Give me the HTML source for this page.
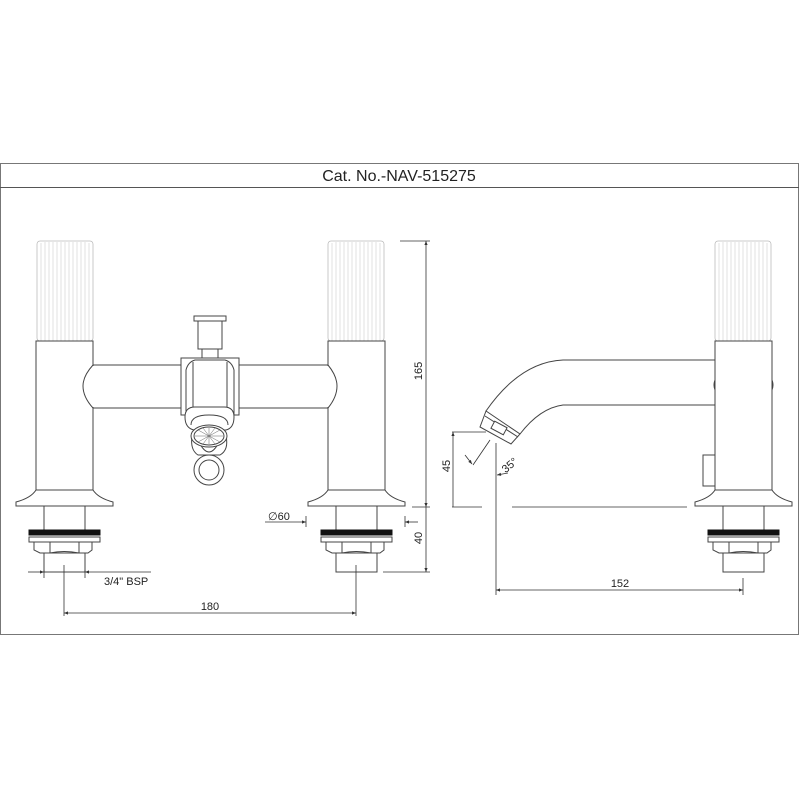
<!DOCTYPE html>
<html><head><meta charset="utf-8"><style>
html,body{margin:0;padding:0;background:#fff;}
svg{display:block;}
text{font-family:"Liberation Sans",sans-serif;fill:#222;}
</style></head><body>
<svg width="800" height="800" viewBox="0 0 800 800" xmlns="http://www.w3.org/2000/svg">
<defs>
<marker id="ar" viewBox="0 0 10 10" refX="10" refY="5" markerWidth="7" markerHeight="5" orient="auto-start-reverse"><path d="M0,1 L10,5 L0,9 z" fill="#333"/></marker>
<g id="cap">
 <rect x="0" y="0" width="56" height="100" fill="#fff" stroke="#bbb" stroke-width="0.8" rx="3"/>
 <g stroke="#ccc" stroke-width="0.6">
  <line x1="4" y1="2" x2="4" y2="100"/><line x1="8" y1="1" x2="8" y2="100"/><line x1="12" y1="1" x2="12" y2="100"/><line x1="16" y1="1" x2="16" y2="100"/><line x1="20" y1="1" x2="20" y2="100"/><line x1="24" y1="1" x2="24" y2="100"/><line x1="28" y1="1" x2="28" y2="100"/><line x1="32" y1="1" x2="32" y2="100"/><line x1="36" y1="1" x2="36" y2="100"/><line x1="40" y1="1" x2="40" y2="100"/><line x1="44" y1="1" x2="44" y2="100"/><line x1="48" y1="1" x2="48" y2="100"/><line x1="52" y1="2" x2="52" y2="100"/>
 </g>
</g>
<g id="base" fill="#fff" stroke="#444" stroke-width="1">
 <path d="M0,0 L57,0 Q62,8 77,12 L77,16 L-20,16 L-20,12 Q-5,8 0,0 Z"/>
 <rect x="8" y="16" width="41" height="24"/>
 <rect x="-7" y="40" width="71" height="5" fill="#111" stroke="#111"/>
 <rect x="-7" y="47" width="71" height="5"/>
 <path d="M-2,52 L56,52 L56,60 L52,63 L4,63 L-2,60 Z"/>
 <line x1="14" y1="52" x2="14" y2="63"/><line x1="43" y1="52" x2="43" y2="63"/>
 <path d="M14,63 Q28,60 43,63" fill="none"/>
 <rect x="8" y="63" width="41" height="19"/>
</g>
</defs>

<!-- frame -->
<rect x="0.5" y="163.5" width="798" height="471" fill="none" stroke="#777" stroke-width="1"/>
<line x1="0" y1="187.5" x2="799" y2="187.5" stroke="#555" stroke-width="1"/>
<text x="399" y="181" font-size="16" text-anchor="middle">Cat. No.-NAV-515275</text>

<!-- left tap -->
<use href="#cap" x="37" y="241"/>
<rect x="36" y="341" width="57" height="149" fill="#fff" stroke="#444"/>
<use href="#base" x="36" y="490"/>
<!-- right tap -->
<use href="#cap" x="328" y="241"/>
<rect x="328" y="341" width="57" height="149" fill="#fff" stroke="#444"/>
<use href="#base" x="328" y="490"/>

<!-- bar -->
<line x1="93" y1="366" x2="93" y2="407" stroke="#fff" stroke-width="3"/>
<line x1="328" y1="366" x2="328" y2="407" stroke="#fff" stroke-width="3"/>
<g fill="#fff" stroke="#444" stroke-width="1">
 <path d="M93,365 L181,365 M93,408 L181,408 M239,365 L328,365 M239,408 L328,408"/>
 <path d="M93,365 Q83,376 83,386 Q83,397 93,408" fill="none"/>
 <path d="M328,365 Q337,376 337,386 Q337,397 328,408" fill="none"/>
 <!-- top stem -->
 <rect x="194" y="316" width="32" height="5"/>
 <rect x="198" y="321" width="24" height="28"/>
 <rect x="202" y="349" width="16" height="9"/>
 <!-- block -->
 <rect x="181" y="358" width="58" height="57"/>
 <path d="M186,415 L186,370 Q188,362 195,360 L225,360 Q232,362 234,370 L234,415"/>
 <line x1="193" y1="362" x2="193" y2="412"/><line x1="227" y1="362" x2="227" y2="412"/>
 <path d="M185,417 Q185,407 195,407 L224,407 Q234,407 234,417 Q234,428 226,430 L194,430 Q185,428 185,417 Z"/>
 <path d="M191,425 Q191,415 209,415 Q228,415 228,425"/>
 <path d="M192,436 Q190,450 198,455 L220,455 Q229,450 226,436" fill="none"/>
 <path d="M200,444 Q209,460 218,444" fill="none"/>
 <ellipse cx="209" cy="436" rx="18" ry="11"/>
 <ellipse cx="209" cy="436" rx="15" ry="9"/>
 <circle cx="209" cy="470" r="15"/>
 <circle cx="209" cy="470" r="10"/>
</g>
<g stroke="#666" stroke-width="0.5">
 <line x1="195" y1="436" x2="223" y2="436"/><line x1="209" y1="428" x2="209" y2="444"/>
 <line x1="198" y1="430" x2="220" y2="442"/><line x1="198" y1="442" x2="220" y2="430"/>
 <line x1="203" y1="428" x2="215" y2="444"/><line x1="215" y1="428" x2="203" y2="444"/>
</g>

<!-- dimensions left -->
<g stroke="#333" stroke-width="0.8" fill="none">
 <line x1="400" y1="241" x2="430" y2="241"/>
 <line x1="426" y1="241" x2="426" y2="507" marker-start="url(#ar)" marker-end="url(#ar)"/>
 <line x1="412" y1="507" x2="430" y2="507"/>
 <line x1="426" y1="507" x2="426" y2="572" marker-end="url(#ar)"/>
 <line x1="383" y1="572" x2="430" y2="572"/>
 <line x1="265" y1="522" x2="306" y2="522" marker-end="url(#ar)"/>
 <line x1="306" y1="516" x2="306" y2="527"/>
 <line x1="418" y1="522" x2="405" y2="522" marker-end="url(#ar)"/>
 <line x1="405" y1="516" x2="405" y2="527"/>
 <line x1="44" y1="570" x2="44" y2="578"/><line x1="85" y1="570" x2="85" y2="578"/>
 <line x1="28" y1="572" x2="44" y2="572" marker-end="url(#ar)"/>
 <line x1="151" y1="572" x2="85" y2="572" marker-end="url(#ar)"/>
 <line x1="64" y1="565" x2="64" y2="616"/><line x1="356" y1="565" x2="356" y2="616"/>
 <line x1="64" y1="613" x2="356" y2="613" marker-start="url(#ar)" marker-end="url(#ar)"/>
</g>
<text x="0" y="0" font-size="11" text-anchor="middle" transform="translate(422,371) rotate(-90)">165</text>
<text x="0" y="0" font-size="11" text-anchor="middle" transform="translate(422,538) rotate(-90)">40</text>
<text x="268" y="520" font-size="11">∅60</text>
<text x="104" y="585" font-size="11">3/4" BSP</text>
<text x="210" y="610" font-size="11" text-anchor="middle">180</text>

<!-- right view -->
<use href="#cap" x="715" y="241"/>
<g fill="#fff" stroke="#444" stroke-width="1">
 <path d="M715,360 L563,360 Q520,362 486,411 M715,405 L563,405 Q540,408 520,434"/>
 <path d="M486,411 L480,427 L511,444 L520,434 Z"/>
 <path d="M485,416 L518,437"/>
 <rect x="492" y="424" width="14" height="8" transform="rotate(28 499 428)"/>
 <rect x="715" y="341" width="57" height="149"/>
 <path d="M715,380 Q713,385 715,390 M772,380 Q774,385 772,390" fill="none"/>
 <rect x="703" y="455" width="12" height="31"/>
</g>
<use href="#base" x="715" y="490"/>
<g stroke="#333" stroke-width="0.8" fill="none">
 <line x1="452" y1="432" x2="486" y2="432"/>
 <line x1="453" y1="507" x2="453" y2="432" marker-end="url(#ar)"/>
 <line x1="452" y1="507" x2="482" y2="507"/>
 <line x1="512" y1="507" x2="687" y2="507"/>
 <line x1="496" y1="443" x2="496" y2="595"/>
 <line x1="490" y1="440" x2="473" y2="465"/>
 <line x1="465" y1="455" x2="472" y2="464" marker-end="url(#ar)"/>
 <line x1="508" y1="473" x2="497" y2="475" marker-end="url(#ar)"/>
 <line x1="743" y1="578" x2="743" y2="595"/>
 <line x1="496" y1="590" x2="743" y2="590" marker-start="url(#ar)" marker-end="url(#ar)"/>
</g>
<text x="0" y="0" font-size="11" text-anchor="middle" transform="translate(450,466) rotate(-90)">45</text>
<text x="0" y="0" font-size="11" text-anchor="middle" transform="translate(512,468) rotate(-40)">35°</text>
<text x="620" y="587" font-size="11" text-anchor="middle">152</text>
</svg>
</body></html>
